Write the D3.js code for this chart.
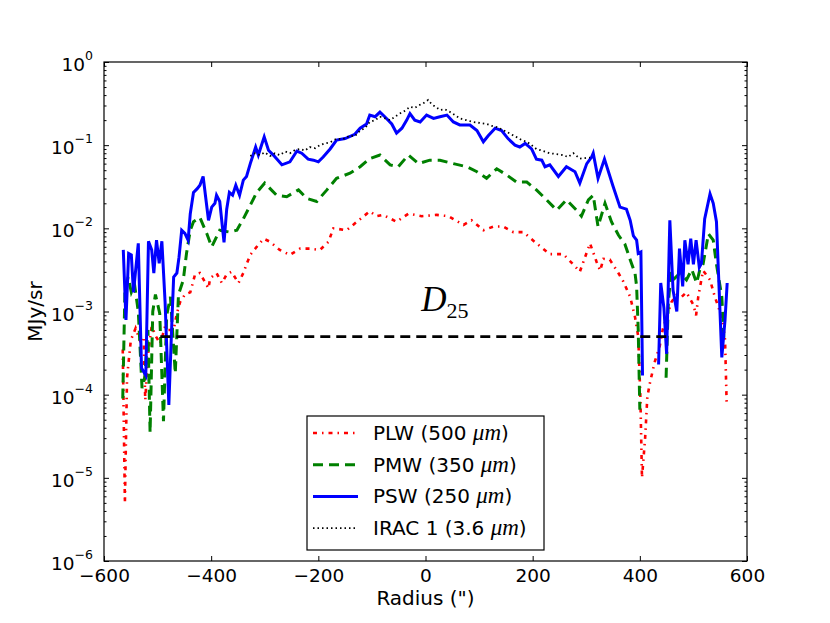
<!DOCTYPE html>
<html>
<head>
<meta charset="utf-8">
<script src="https://cdn.jsdelivr.net/npm/d3@7"></script>
<style>
	body { margin: 0; background: #ffffff; }
	svg { display: block; }
	.axis text { font-family: 'DejaVu Sans', sans-serif; font-size: 18.5px; fill: #000000; }
	.axis line { stroke: #000000; stroke-width: 1; }
	.line { fill: none; }
</style>
</head>
<body>
<div id="chart"></div>
<script>
'use strict';

// radius ("), surface brightness (MJy/sr); null = not plotted (non-positive value)
var plw = [
	[-565, 3.5e-4], [-561, 5e-6], [-557, 1.6e-4], [-550, 4.5e-4], [-541, 6.3e-4], [-533, 4.5e-4],
	[-526, 5e-4], [-523, 8.6e-5], [-518, 3e-4], [-511, 6.6e-4], [-503, 5e-4], [-495, 4.1e-4],
	[-486, 6.6e-4], [-480, 6e-4], [-470, 6e-4], [-464, 9.5e-4], [-458, 1.3e-3], [-449, 1.6e-3],
	[-439, 1.7e-3], [-430, 2.8e-3], [-421, 2.9e-3], [-405, 1.9e-3], [-402, 2.5e-3], [-390, 2.9e-3],
	[-380, 2.2e-3], [-371, 2.8e-3], [-362, 3e-3], [-349, 2.2e-3], [-340, 2.9e-3], [-334, 3.7e-3],
	[-327, 4.8e-3], [-315, 6e-3], [-302, 7.5e-3], [-290, 6.9e-3], [-272, 5.5e-3], [-253, 4.8e-3],
	[-234, 5.7e-3], [-216, 5.7e-3], [-197, 5.5e-3], [-181, 6.9e-3], [-172, 1e-2], [-147, 9.5e-3],
	[-128, 1.2e-2], [-104, 1.6e-2], [-91, 1.4e-2], [-79, 1.45e-2], [-54, 1.2e-2], [-32, 1.5e-2],
	[-7, 1.4e-2], [21, 1.45e-2], [43, 1.4e-2], [71, 1.1e-2], [86, 1.25e-2], [108, 9.5e-3],
	[127, 1.05e-2], [145, 1.05e-2], [164, 9e-3], [183, 9e-3], [207, 6.6e-3], [232, 4.9e-3],
	[257, 4.9e-3], [279, 3.5e-3], [288, 3e-3], [307, 6.6e-3], [319, 4e-3], [326, 3.1e-3],
	[332, 4.3e-3], [344, 4.2e-3], [360, 2.9e-3], [369, 2.3e-3], [382, 1.5e-3], [391, 8.6e-4],
	[397, 5e-4], [401, 9.4e-5], [404, 1e-5], [410, 3.1e-5], [414, 9.4e-5], [419, 1.4e-4],
	[428, 2.5e-4], [437, 3.8e-4], [443, 6.2e-4], [450, 8.6e-4], [459, 1.3e-3], [469, 1.6e-3],
	[478, 1.5e-3], [487, 1.7e-3], [500, 1.2e-3], [505, 9e-4], [509, 1.5e-3], [518, 3.1e-3],
	[531, 2.4e-3], [540, 1.5e-3], [553, 8.6e-4], [559, 4.6e-4], [562, 8e-5]
];

var pmw = [
	[-565, 9e-5], [-561, 1.7e-3], [-555, 2.6e-3], [-549, 1.7e-3], [-543, 2.1e-3], [-536, 1.0e-3],
	[-529, 1.2e-4], [-524, 1.6e-4], [-518, 6e-4], [-514, 3.5e-5], [-509, 1.0e-3], [-504, 1.6e-3],
	[-496, 9.5e-4], [-489, 4.8e-5], [-483, 9e-4], [-476, 1.5e-3], [-467, 1.8e-4], [-461, 1.6e-3],
	[-452, 2.4e-3], [-446, 5e-3], [-439, 9.5e-3], [-433, 1.2e-2], [-421, 1.35e-2], [-408, 8.6e-3],
	[-399, 6e-3], [-384, 9.5e-3], [-365, 9e-3], [-352, 9.5e-3], [-340, 1.3e-2], [-327, 1.9e-2],
	[-315, 2.7e-2], [-300, 3.5e-2], [-290, 3e-2], [-278, 2.5e-2], [-259, 2.4e-2], [-237, 2.9e-2],
	[-222, 2.3e-2], [-203, 2.1e-2], [-184, 2.9e-2], [-166, 4e-2], [-141, 4.6e-2], [-122, 5.5e-2],
	[-104, 6.9e-2], [-85, 7.6e-2], [-66, 5.8e-2], [-51, 5.5e-2], [-32, 7.6e-2], [-13, 6e-2],
	[8, 6.6e-2], [27, 6.6e-2], [52, 6e-2], [77, 5.5e-2], [96, 4.8e-2], [114, 4e-2],
	[133, 5.2e-2], [151, 4.4e-2], [170, 3.6e-2], [189, 3.6e-2], [207, 2.9e-2], [226, 2.2e-2],
	[245, 1.65e-2], [263, 2.2e-2], [282, 1.65e-2], [291, 1.4e-2], [304, 2.2e-2], [313, 2.5e-2],
	[322, 1.05e-2], [335, 2e-2], [347, 1.2e-2], [360, 8.3e-3], [372, 6.5e-3], [382, 4.2e-3],
	[391, 2.9e-3], [394, 2e-3], [397, 6e-4], [400, 6.6e-5], [425, null], [449, 1.6e-4],
	[453, 1.2e-3], [458, 3e-3], [465, 2.5e-3], [475, 2.9e-3], [487, 2.4e-3], [497, 3.2e-3],
	[506, 2.2e-3], [512, 3.2e-3], [518, 3.7e-3], [528, 8.6e-3], [537, 7.2e-3], [543, 3.7e-3],
	[553, 1.5e-3], [557, 4.6e-4]
];

var psw = [
	[-564, 5.5e-3], [-559, 7.9e-4], [-554, 5e-3], [-549, 4.8e-3], [-545, 1.7e-3], [-536, 6.6e-3],
	[-530, 2.1e-4], [-522, 1.7e-4], [-517, 7e-3], [-511, 5.5e-3], [-507, 2.9e-3], [-502, 7.2e-3],
	[-497, 3.8e-3], [-492, 7e-3], [-486, 1.3e-3], [-479, 7.5e-5], [-473, 8.6e-4], [-470, 2.6e-3],
	[-464, 2.9e-3], [-460, 4.5e-3], [-455, 9.5e-3], [-449, 8.7e-3], [-443, 7.2e-3], [-439, 1.5e-2],
	[-433, 2.7e-2], [-426, 3e-2], [-421, 3.3e-2], [-415, 4.2e-2], [-405, 1.25e-2], [-399, 1.8e-2],
	[-393, 2e-2], [-390, 2.5e-2], [-384, 2.1e-2], [-376, 6.8e-3], [-371, 1.7e-2], [-366, 2.7e-2],
	[-360, 2.5e-2], [-354, 3.3e-2], [-347, 2.5e-2], [-340, 3.8e-2], [-334, 4.2e-2], [-327, 6e-2],
	[-321, 7.9e-2], [-317, 9.5e-2], [-312, 7.6e-2], [-301, 1.26e-1], [-293, 8.7e-2], [-284, 7.6e-2],
	[-268, 5.8e-2], [-253, 6.3e-2], [-240, 8.5e-2], [-231, 8e-2], [-219, 6.8e-2], [-209, 6.6e-2],
	[-200, 6.3e-2], [-191, 7.2e-2], [-178, 9e-2], [-166, 1.15e-1], [-150, 1.2e-1], [-132, 1.35e-1],
	[-122, 1.6e-1], [-110, 1.8e-1], [-104, 2.3e-1], [-94, 2.2e-1], [-85, 2.5e-1], [-76, 2.2e-1],
	[-63, 1.8e-1], [-54, 1.4e-1], [-44, 1.6e-1], [-35, 2e-1], [-29, 2.4e-1], [-20, 2e-1],
	[-10, 1.9e-1], [2, 2.3e-1], [15, 2.1e-1], [27, 2.2e-1], [40, 2.3e-1], [52, 1.9e-1],
	[64, 1.75e-1], [83, 1.75e-1], [96, 1.5e-1], [108, 1.1e-1], [117, 1.3e-1], [130, 1.6e-1],
	[142, 1.5e-1], [154, 1.2e-1], [167, 1e-1], [176, 9.5e-2], [186, 1.05e-1], [198, 9e-2],
	[207, 6.8e-2], [217, 6.6e-2], [223, 5.5e-2], [232, 5.8e-2], [248, 4.2e-2], [263, 5.5e-2],
	[279, 4.8e-2], [288, 3.5e-2], [301, 6e-2], [310, 7.2e-2], [313, 8e-2], [322, 4e-2],
	[334, 6.8e-2], [350, 3.2e-2], [363, 1.8e-2], [375, 1.7e-2], [382, 1.25e-2], [388, 8.1e-3],
	[394, 7.2e-3], [397, 5e-3], [402, 5.2e-3], [405, 1.7e-4], [420, null], [435, 2.3e-4],
	[439, 2.2e-3], [445, 1.1e-3], [450, 3.1e-4], [456, 1.25e-2], [462, 1.8e-3], [469, 1e-3],
	[474, 5.7e-3], [480, 2e-3], [484, 7.2e-3], [490, 3.7e-3], [495, 7.5e-3], [500, 3.7e-3],
	[505, 7.2e-3], [511, 3.4e-3], [515, 3.8e-3], [521, 1.3e-2], [531, 2.6e-2], [537, 2e-2],
	[543, 1.2e-2], [553, 2.8e-4], [559, 7.9e-4], [563, 2.2e-3]
];

var irac1 = [
	[-327, 7.4e-2], [-318, 8e-2], [-309, 7.6e-2], [-300, 8.2e-2], [-290, 7.4e-2], [-281, 8e-2],
	[-272, 7.6e-2], [-262, 8.4e-2], [-253, 8e-2], [-243, 8.8e-2], [-234, 9e-2], [-225, 8.6e-2],
	[-216, 9.5e-2], [-206, 9.2e-2], [-197, 1e-1], [-188, 1.05e-1], [-178, 1.08e-1], [-166, 1.2e-1],
	[-154, 1.18e-1], [-141, 1.3e-1], [-132, 1.28e-1], [-122, 1.5e-1], [-113, 1.6e-1], [-104, 1.9e-1],
	[-94, 2e-1], [-85, 2.2e-1], [-75, 2.1e-1], [-66, 2e-1], [-57, 2.2e-1], [-48, 2.4e-1],
	[-38, 2.6e-1], [-29, 2.9e-1], [-20, 2.8e-1], [-13, 3e-1], [-4, 3.2e-1], [5, 3.5e-1],
	[10, 3.2e-1], [15, 3e-1], [22, 2.8e-1], [27, 2.65e-1], [36, 2.7e-1], [46, 2.5e-1],
	[55, 2.3e-1], [64, 2.1e-1], [76, 2e-1], [89, 1.9e-1], [101, 1.85e-1], [114, 1.8e-1],
	[124, 1.7e-1], [133, 1.65e-1], [142, 1.55e-1], [151, 1.45e-1], [160, 1.35e-1], [170, 1.25e-1],
	[180, 1.15e-1], [189, 1.1e-1], [198, 1e-1], [207, 9e-2], [220, 8.5e-2], [232, 8e-2],
	[245, 7.8e-2], [257, 7.6e-2], [266, 7.2e-2], [276, 8e-2], [288, 6.9e-2], [298, 7e-2],
	[307, 7.1e-2]
];

// D25 isophote level and its radial extent
var d25Level = 5e-4;
var d25Extent = [-495, 487];

var xTicks = [-600, -400, -200, 0, 200, 400, 600];
var yDecades = [-6, -5, -4, -3, -2, -1, 0];

var seriesList = [
	{ name: 'PLW (500 ', band: 'μm)', data: plw, color: '#ff0000', width: 2.6, dash: '4,5,1.5,5' },
	{ name: 'PMW (350 ', band: 'μm)', data: pmw, color: '#008000', width: 3, dash: '10,6' },
	{ name: 'PSW (250 ', band: 'μm)', data: psw, color: '#0000ff', width: 3, dash: null },
	{ name: 'IRAC 1 (3.6 ', band: 'μm)', data: irac1, color: '#000000', width: 1.8, dash: '1.5,3' }
];

var W = 830, H = 623;
var margin = { top: 62, right: 83, bottom: 62, left: 104 };
var width = W - margin.left - margin.right;
var height = H - margin.top - margin.bottom;

var svg = d3.select('#chart').append('svg')
	.attr('width', W)
	.attr('height', H);

var g = svg.append('g').attr('transform', 'translate(' + margin.left + ',' + margin.top + ')');

var xscale = d3.scaleLinear().domain([-600, 600]).range([0, width]);
var yscale = d3.scaleLog().domain([1e-6, 1]).range([height, 0]);

// minor ticks 2..9 inside each decade
var minorTicks = [];
yDecades.forEach(function(e) {
	if (e === 0) return;
	for (var m = 2; m <= 9; m++) minorTicks.push(m * Math.pow(10, e));
});
var majorTicks = yDecades.map(function(e) { return Math.pow(10, e); });

g.append('defs').append('clipPath').attr('id', 'clip')
	.append('rect').attr('width', width).attr('height', height);

// data lines
var line = d3.line()
	.defined(function(d) { return d[1] !== null && d[1] > 0; })
	.x(function(d) { return xscale(d[0]); })
	.y(function(d) { return yscale(d[1]); });

var plot = g.append('g').attr('clip-path', 'url(#clip)');

seriesList.forEach(function(s) {
	plot.append('path')
		.attr('class', 'line')
		.attr('d', line(s.data))
		.style('stroke', s.color)
		.style('stroke-width', s.width)
		.style('stroke-dasharray', s.dash);
});

// D25 marker
plot.append('line')
	.attr('x1', xscale(d25Extent[0]))
	.attr('x2', xscale(d25Extent[1]))
	.attr('y1', yscale(d25Level))
	.attr('y2', yscale(d25Level))
	.style('stroke', '#000000')
	.style('stroke-width', 2.8)
	.style('stroke-dasharray', '10,6');

var d25 = g.append('text')
	.attr('x', xscale(-8))
	.attr('y', yscale(d25Level) - 26)
	.style('font-family', "'Liberation Serif', serif")
	.style('fill', '#000000');
d25.append('tspan').style('font-style', 'italic').style('font-size', '35px').text('D');
d25.append('tspan').attr('dy', 7).attr('dx', 0).style('font-size', '22px').text('25');

// axes (ticks point inward, as in the original)
g.append('g')
	.attr('class', 'axis')
	.attr('transform', 'translate(0,' + height + ')')
	.call(d3.axisBottom(xscale).tickValues(xTicks).tickSizeInner(-5).tickSizeOuter(0).tickPadding(8)
		.tickFormat(function(d) { return d < 0 ? '\u2212' + Math.abs(d) : d; }));

g.append('g')
	.attr('class', 'axis')
	.call(d3.axisTop(xscale).tickValues(xTicks).tickSizeInner(-5).tickSizeOuter(0).tickFormat(''));

var yLeft = g.append('g')
	.attr('class', 'axis')
	.call(d3.axisLeft(yscale).tickValues(majorTicks).tickSizeInner(-5).tickSizeOuter(0).tickFormat(''));

g.append('g')
	.attr('class', 'axis')
	.call(d3.axisLeft(yscale).tickValues(minorTicks).tickSizeInner(-2.5).tickSizeOuter(0).tickFormat(''));

g.append('g')
	.attr('class', 'axis')
	.attr('transform', 'translate(' + width + ',0)')
	.call(d3.axisRight(yscale).tickValues(majorTicks).tickSizeInner(-5).tickSizeOuter(0).tickFormat(''));

g.append('g')
	.attr('class', 'axis')
	.attr('transform', 'translate(' + width + ',0)')
	.call(d3.axisRight(yscale).tickValues(minorTicks).tickSizeInner(-2.5).tickSizeOuter(0).tickFormat(''));

g.selectAll('.axis .domain').remove();

// y tick labels 10^n
yLeft.selectAll('.tick').each(function(d) {
	var e = Math.round(Math.log10(d));
	var t = d3.select(this).append('text')
		.attr('x', -11)
		.attr('y', 8.5)
		.attr('text-anchor', 'end');
	t.append('tspan').text('10');
	t.append('tspan')
		.attr('dy', -11)
		.style('font-size', '12.5px')
		.text(e < 0 ? '\u2212' + Math.abs(e) : e);
});

// frame
g.append('rect')
	.attr('width', width)
	.attr('height', height)
	.style('fill', 'none')
	.style('stroke', '#000000')
	.style('stroke-width', 1.2);

// axis titles
svg.append('text')
	.attr('x', margin.left + width / 2)
	.attr('y', 605)
	.attr('text-anchor', 'middle')
	.style('font-family', "'DejaVu Sans', sans-serif")
	.style('font-size', '20px')
	.text('Radius (")');

svg.append('text')
	.attr('transform', 'translate(42,' + (margin.top + height / 2) + ') rotate(-90)')
	.attr('text-anchor', 'middle')
	.style('font-family', "'DejaVu Sans', sans-serif")
	.style('font-size', '20px')
	.text('MJy/sr');

// legend
var legend = svg.append('g')
	.attr('class', 'legend')
	.attr('transform', 'translate(307,416)');

legend.append('rect')
	.attr('width', 237)
	.attr('height', 134)
	.style('fill', '#ffffff')
	.style('stroke', '#000000')
	.style('stroke-width', 1.2);

legend.selectAll('g')
	.data(seriesList)
.enter().append('g')
	.each(function(d, i) {
		var row = d3.select(this);
		var ypos = 17 + i * 31.7;
		row.append('line')
			.attr('x1', 6)
			.attr('x2', 51)
			.attr('y1', ypos)
			.attr('y2', ypos)
			.style('stroke', d.color)
			.style('stroke-width', d.width)
			.style('stroke-dasharray', d.dash);
		var t = row.append('text')
			.attr('x', 66)
			.attr('y', ypos + 7)
			.style('font-family', "'DejaVu Sans', sans-serif")
			.style('font-size', '20px');
		t.append('tspan').text(d.name);
		t.append('tspan')
			.style('font-family', "'Liberation Serif', serif")
			.style('font-style', 'italic')
			.style('font-size', '23px')
			.text(d.band.slice(0, 2));
		t.append('tspan').text(d.band.slice(2));
	});
</script>
</body>
</html>
